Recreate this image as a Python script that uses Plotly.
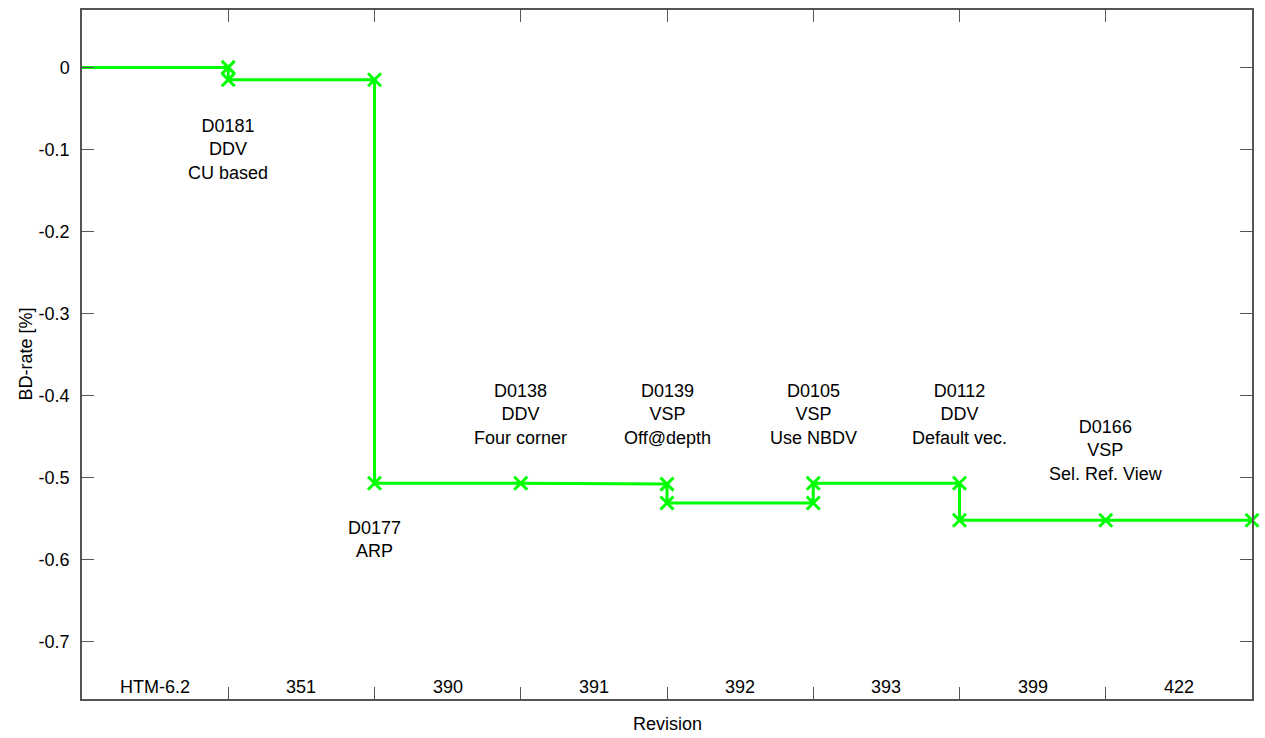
import plotly.graph_objects as go

# ---- data ----
step_x = [0, 1, 1, 2, 2, 3, 4, 4, 5, 5, 6, 6, 7, 8]
bd_rate = [0, 0, -0.015, -0.015, -0.507, -0.507, -0.508, -0.531,
           -0.531, -0.507, -0.507, -0.552, -0.552, -0.552]

revisions = ["HTM-6.2", "351", "390", "391", "392", "393", "399", "422"]

y_tickvals = [0, -0.1, -0.2, -0.3, -0.4, -0.5, -0.6, -0.7]
y_ticktext = ["0", "-0.1", "-0.2", "-0.3", "-0.4", "-0.5", "-0.6", "-0.7"]

proposal_text = [
    "D0181<br>DDV<br>CU based",
    "D0177<br>ARP",
    "D0138<br>DDV<br>Four corner",
    "D0139<br>VSP<br>Off@depth",
    "D0105<br>VSP<br>Use NBDV",
    "D0112<br>DDV<br>Default vec.",
    "D0166<br>VSP<br>Sel. Ref. View",
]
proposal_at = [1, 2, 3, 4, 5, 6, 7]

# label placement (layout only)
label_y = [-0.10, -0.576, -0.4235, -0.4235, -0.4235, -0.4235, -0.467]

FONT = "Arial, Liberation Sans, Helvetica, sans-serif"
FS = 18
GREEN = "#00FF00"
AX = "#555555"

fig = go.Figure()
fig.add_trace(go.Scatter(
    x=step_x, y=bd_rate, mode="lines",
    line=dict(color=GREEN, width=3), cliponaxis=False, showlegend=False,
    hoverinfo="skip",
))
fig.add_trace(go.Scatter(
    x=step_x[1:], y=bd_rate[1:], mode="markers",
    marker=dict(symbol="x-thin", size=13, line=dict(color=GREEN, width=3)),
    cliponaxis=False, showlegend=False,
))

annotations = []
for txt, xv, yv in zip(proposal_text, proposal_at, label_y):
    annotations.append(dict(
        x=xv, y=yv, xref="x", yref="y", text=txt, showarrow=False,
        xanchor="center", yanchor="middle", align="center",
        font=dict(family=FONT, size=FS, color="#000000"),
    ))
for i, r in enumerate(revisions):
    annotations.append(dict(
        x=i + 0.5, y=0, xref="x", yref="paper", text=r, showarrow=False,
        xanchor="center", yanchor="bottom", yshift=0,
        font=dict(family=FONT, size=FS, color="#000000"),
    ))
annotations.append(dict(
    x=0.5, y=0, xref="paper", yref="paper", text="Revision", showarrow=False,
    xanchor="center", yanchor="middle", yshift=-25,
    font=dict(family=FONT, size=FS, color="#000000"),
))
annotations.append(dict(
    x=0, y=0.5, xref="paper", yref="paper", text="BD-rate [%]", showarrow=False,
    xanchor="center", yanchor="middle", xshift=-57, textangle=-90,
    font=dict(family=FONT, size=FS, color="#000000"),
))

fig.update_layout(
    width=1265, height=738,
    margin=dict(l=82, r=13, t=8, b=39),
    paper_bgcolor="white", plot_bgcolor="white",
    showlegend=False,
    font=dict(family=FONT, size=FS, color="#000000"),
    annotations=annotations,
    xaxis=dict(
        range=[0, 8], tickmode="array", tickvals=[1, 2, 3, 4, 5, 6, 7],
        showticklabels=False, ticks="inside", ticklen=12, tickcolor=AX,
        tickwidth=1, showline=True, linecolor=AX, linewidth=1.5,
        mirror="ticks", showgrid=False, zeroline=False, fixedrange=True,
    ),
    yaxis=dict(
        range=[-0.77, 0.07], tickmode="array", tickvals=y_tickvals,
        ticktext=y_ticktext, ticks="inside", ticklen=12, tickcolor=AX,
        tickwidth=1, showline=True, linecolor=AX, linewidth=1.5,
        mirror="ticks", showgrid=False, zeroline=False, ticklabelstandoff=7,
        tickfont=dict(family=FONT, size=FS, color="#000000"), fixedrange=True,
    ),
)

fig.write_html(
    "out.html",
    config={"displayModeBar": False},
    post_script="document.body.style.margin='0';document.body.style.padding='0';",
)
